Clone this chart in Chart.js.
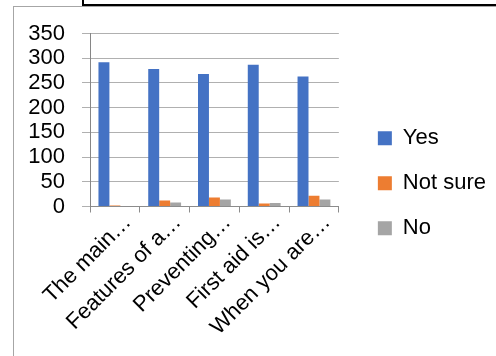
<!DOCTYPE html>
<html>
<head>
<meta charset="utf-8">
<script src="https://cdn.jsdelivr.net/npm/chart.js@4.4.1/dist/chart.umd.min.js"></script>
<style>
  html, body { margin: 0; padding: 0; background: #fff; overflow: hidden; }
  body { width: 496px; height: 356px; position: relative; }
  .caja { position: absolute; left: 82px; top: -20px; width: 420px; height: 22px; border: 2px solid #000; }
  .marco { position: absolute; left: 13px; top: 6px; width: 500px; height: 400px; border-left: 1px solid #a6a6a6; border-top: 1px solid #a6a6a6; }
  #grafico { position: absolute; left: 14px; top: 7px; }
</style>
</head>
<body>
<div class="marco"></div>
<div class="caja"></div>
<canvas id="grafico" width="482" height="349"></canvas>
<script>
const preguntas = ['The main…', 'Features of a…', 'Preventing…', 'First aid is…', 'When you are…'];
const si = [292, 278, 268, 287, 263];
const noSeguro = [2, 12, 18, 6, 22];
const no = [1, 8, 14, 7, 14];
const ticksY = [0, 50, 100, 150, 200, 250, 300, 350];

const fuente = { family: '"Liberation Sans", Arial, sans-serif', size: 22 };

const ctx = document.getElementById('grafico').getContext('2d');
new Chart(ctx, {
  type: 'bar',
  data: {
    labels: preguntas,
    datasets: [
      { label: 'Yes', data: si, backgroundColor: '#4472c4' },
      { label: 'Not sure', data: noSeguro, backgroundColor: '#ed7d31' },
      { label: 'No', data: no, backgroundColor: '#a5a5a5' }
    ]
  },
  options: {
    responsive: false,
    animation: false,
    devicePixelRatio: 1,
    categoryPercentage: 0.66,
    barPercentage: 1,
    layout: { padding: { left: 14, top: 26.5, right: 0, bottom: 23 } },
    plugins: {
      legend: {
        position: 'right',
        maxWidth: 200,
        labels: { boxWidth: 14, boxHeight: 14, padding: 23, color: '#000', font: fuente }
      },
      tooltip: { enabled: false }
    },
    scales: {
      x: {
        grid: { display: true, drawOnChartArea: false, tickLength: 6, color: '#8c8c8c' },
        border: { display: true, color: '#8c8c8c', width: 1 },
        ticks: { color: '#000', font: fuente, minRotation: 45, maxRotation: 45, padding: -3, labelOffset: 13, autoSkip: false },
        // las etiquetas giradas no deben empujar el eje y
        afterFit: scale => { scale.paddingLeft = 0; scale.paddingRight = 0; scale.height = 126.5; }
      },
      y: {
        min: ticksY[0],
        max: ticksY[ticksY.length - 1],
        afterBuildTicks: scale => { scale.ticks = ticksY.map(v => ({ value: v })); },
        grid: { color: '#b0b0b0', tickLength: 8 },
        border: { display: true, color: '#868686', width: 1 },
        ticks: { color: '#000', font: fuente, padding: 17, autoSkip: false },
        afterFit: scale => { scale.width = 62; scale.paddingTop = 0; scale.paddingBottom = 0; }
      },
      // separación entre el área del gráfico y la leyenda
      hueco: {
        type: 'linear',
        position: 'right',
        grid: { display: false },
        border: { display: false },
        ticks: { display: false },
        afterFit: scale => { scale.width = 16; scale.paddingTop = 0; scale.paddingBottom = 0; }
      }
    }
  }
});
</script>
</body>
</html>
